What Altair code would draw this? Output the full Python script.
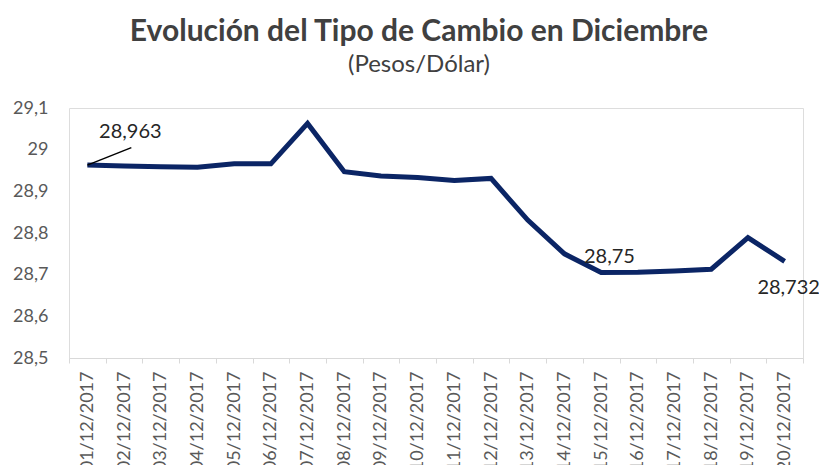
import altair as alt
import pandas as pd

fechas = [f"{d:02d}/12/2017" for d in range(1, 21)]
valores = [28.963, 28.961, 28.959, 28.958, 28.966, 28.966, 29.063, 28.947, 28.937, 28.933,
           28.926, 28.931, 28.831, 28.750, 28.705, 28.706, 28.709, 28.713, 28.789, 28.732]

lbl_fechas = ["01/12/2017", "14/12/2017", "20/12/2017"]
lbl_valores = [28.963, 28.750, 28.732]
lbl_textos = ["28,963", "28,75", "28,732"]
lbl_dx = [43, 45, 4]
lbl_dy = [-33, 3, 27]

leader_fecha = ["01/12/2017"]
leader_y = [28.963]
leader_y2 = [29.005]

df = pd.DataFrame({"fecha": fechas, "valor": valores})
FONT = "Lato"

xscale = alt.Scale(domain=fechas, paddingInner=0, paddingOuter=0)
yscale = alt.Scale(domain=[28.5, 29.1], nice=False, zero=False)

x_enc = alt.X("fecha:N", scale=xscale, sort=fechas, title=None,
              axis=alt.Axis(labelAngle=270, labelFont=FONT, labelFontSize=18, labelColor="#595959",
                            domainColor="#d9d9d9", tickColor="#d9d9d9", tickSize=5,
                            tickBand="extent", labelPadding=8, grid=False))
y_enc = alt.Y("valor:Q", scale=yscale, title=None,
              axis=alt.Axis(values=[28.5, 28.6, 28.7, 28.8, 28.9, 29.0, 29.1],
                            labelExpr="replace(format(datum.value, '.2~f'), '.', ',')",
                            labelFont=FONT, labelFontSize=18, labelColor="#595959",
                            domain=False, ticks=False, grid=False, labelPadding=21))

line = alt.Chart(df).mark_line(color="#0b2565", strokeWidth=5, strokeJoin="miter").encode(x=x_enc, y=y_enc)

lead_df = pd.DataFrame({"fecha": leader_fecha, "valor": leader_y, "valor2": leader_y2})
leader = alt.Chart(lead_df).mark_rule(color="#000000", strokeWidth=1.5, x2Offset=44).encode(
    x=alt.X("fecha:N", scale=xscale, sort=fechas, bandPosition=0.5),
    x2=alt.X2("fecha", bandPosition=0.5),
    y=alt.Y("valor:Q", scale=yscale),
    y2=alt.Y2("valor2"),
)

texts = []
for f, v, t, dx, dy in zip(lbl_fechas, lbl_valores, lbl_textos, lbl_dx, lbl_dy):
    d = pd.DataFrame({"fecha": [f], "valor": [v], "txt": [t]})
    texts.append(alt.Chart(d).mark_text(font=FONT, fontSize=20, color="#262626", dx=dx, dy=dy,
                                        baseline="middle", align="center").encode(
        x=alt.X("fecha:N", scale=xscale, sort=fechas),
        y=alt.Y("valor:Q", scale=yscale),
        text="txt:N"))

chart = alt.layer(line, leader, *texts).properties(
    width=734, height=250,
    padding={"left": 61, "top": 100, "right": 16, "bottom": 107},
    autosize=alt.AutoSizeParams(type="none"),
    title=alt.TitleParams(text="Evolución del Tipo de Cambio en Diciembre",
                          subtitle="(Pesos/Dólar)",
                          font=FONT, fontSize=30, fontWeight="bold", color="#404040",
                          subtitleFont=FONT, subtitleFontSize=24, subtitleColor="#404040",
                          subtitlePadding=6,
                          anchor="middle", frame="group", dx=-17, offset=22),
).configure_view(stroke=None).configure(background="white")

chart.save("out.html", embed_options={"renderer": "svg", "actions": False})
